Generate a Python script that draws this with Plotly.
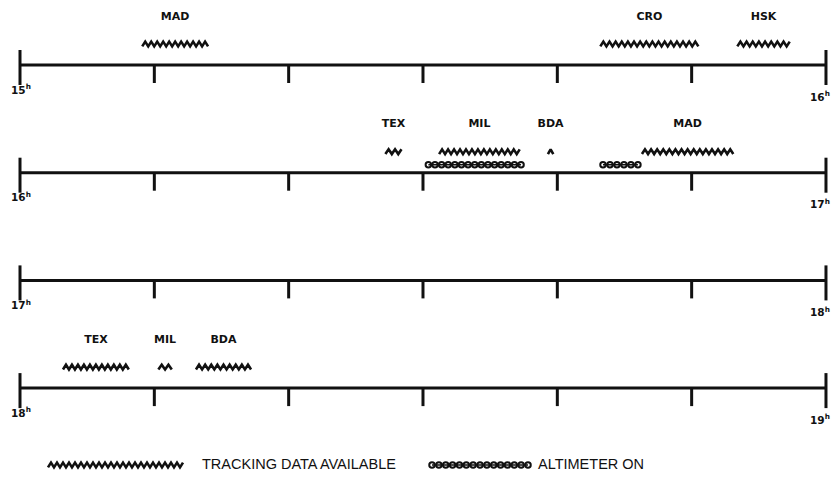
import plotly.graph_objects as go

# ---------------- data ----------------
hour_labels = ["15", "16", "17", "18", "19"]
tick_minutes = [0, 10, 20, 30, 40, 50, 60]

# tracking data available: station, row (starting hour index), start/end minute
track_station = ["MAD", "CRO", "HSK", "TEX", "MIL", "BDA", "MAD", "TEX", "MIL", "BDA"]
track_row = [0, 0, 0, 1, 1, 1, 1, 3, 3, 3]
track_start = [9.1, 43.2, 53.4, 27.2, 31.2, 39.3, 46.3, 3.2, 10.3, 13.1]
track_end = [14.0, 50.5, 57.3, 28.4, 37.2, 39.7, 53.1, 8.1, 11.3, 17.2]

# altimeter on
alt_row = [1, 1]
alt_start = [30.4, 43.4]
alt_end = [37.3, 46.0]

legend_labels = ["TRACKING DATA AVAILABLE", "ALTIMETER ON"]

# ---------------- layout constants ----------------
W, H = 833, 479
PX_PER_MIN = 13.433
X0_PX = 20
ROW_PX = 107.7
ROW0_PX = 65
INK = "#111111"
FONT = "DejaVu Sans"
LFONT = "Liberation Sans"


def px_to_min(px):
    return (px - X0_PX) / PX_PER_MIN


def px_to_row(py):
    return (py - ROW0_PX) / ROW_PX


WAVE_OFF = -21 / ROW_PX
ALT_OFF = -8 / ROW_PX
LABEL_OFF = -48 / ROW_PX


def zigzag(x0, x1, yc, period=0.45, amp=0.022):
    n = max(2, int(round((x1 - x0) / (period / 2))))
    xs = [x0 + (x1 - x0) * i / n for i in range(n + 1)]
    ys = [yc + (-amp if i % 2 else amp) for i in range(n + 1)]
    return xs, ys


def chain(x0, x1, yc, step=0.5):
    n = max(1, int(round((x1 - x0) / step)))
    xs = [x0 + (x1 - x0) * i / n for i in range(n + 1)]
    return xs, [yc] * len(xs)


fig = go.Figure()

# timeline base lines
n_rows = len(hour_labels) - 1
bx, by = [], []
for r in range(n_rows):
    bx += [tick_minutes[0], tick_minutes[-1], None]
    by += [r, r, None]
fig.add_trace(go.Scatter(x=bx, y=by, mode="lines",
                         line=dict(color=INK, width=3), hoverinfo="skip"))

# ticks
tx, ty = [], []
for r in range(n_rows):
    for m in tick_minutes:
        tx += [m, m, None]
        if m in (tick_minutes[0], tick_minutes[-1]):
            ty += [r - 15 / ROW_PX, r + 20 / ROW_PX, None]
        else:
            ty += [r, r + 18 / ROW_PX, None]
fig.add_trace(go.Scatter(x=tx, y=ty, mode="lines",
                         line=dict(color=INK, width=3), hoverinfo="skip"))

# hour labels
lx, ly, lt = [], [], []
for r in range(n_rows):
    lx += [px_to_min(21), px_to_min(820)]
    ly += [r + 26 / ROW_PX, r + 33 / ROW_PX]
    lt += [f"<b>{hour_labels[r]}<sup>h</sup></b>",
           f"<b>{hour_labels[r + 1]}<sup>h</sup></b>"]
fig.add_trace(go.Scatter(x=lx, y=ly, mode="text", text=lt,
                         textfont=dict(family=FONT, size=10.5, color=INK),
                         hoverinfo="skip"))

# tracking wavy segments
wx, wy = [], []
for s, e, r in zip(track_start, track_end, track_row):
    xs, ys = zigzag(s, e, r + WAVE_OFF)
    wx += xs + [None]
    wy += ys + [None]
fig.add_trace(go.Scatter(x=wx, y=wy, mode="lines",
                         line=dict(color=INK, width=2.6), hoverinfo="skip"))

# station labels
sx = [(s + e) / 2 for s, e in zip(track_start, track_end)]
sy = [r + LABEL_OFF for r in track_row]
fig.add_trace(go.Scatter(x=sx, y=sy, mode="text",
                         text=[f"<b>{t}</b>" for t in track_station],
                         textfont=dict(family=FONT, size=11, color=INK),
                         hoverinfo="skip"))

# altimeter segments
ax_, ay_ = [], []
for s, e, r in zip(alt_start, alt_end, alt_row):
    xs, ys = chain(s, e, r + ALT_OFF)
    ax_ += xs + [None]
    ay_ += ys + [None]
alt_marker = dict(symbol="circle-open", size=5.5, color=INK,
                  line=dict(width=2, color=INK))
fig.add_trace(go.Scatter(x=ax_, y=ay_, mode="lines+markers",
                         line=dict(color=INK, width=1.5),
                         marker=alt_marker, hoverinfo="skip"))

# legend
leg_y = px_to_row(465)
xs, ys = zigzag(px_to_min(48), px_to_min(183), leg_y)
fig.add_trace(go.Scatter(x=xs, y=ys, mode="lines",
                         line=dict(color=INK, width=2.6), hoverinfo="skip"))
xs, ys = chain(px_to_min(432), px_to_min(528), leg_y)
fig.add_trace(go.Scatter(x=xs, y=ys, mode="lines+markers",
                         line=dict(color=INK, width=1.5),
                         marker=alt_marker, hoverinfo="skip"))
fig.add_trace(go.Scatter(x=[px_to_min(202), px_to_min(538)], y=[leg_y, leg_y],
                         mode="text", text=legend_labels,
                         textposition="middle right",
                         textfont=dict(family=LFONT, size=14.5, color=INK),
                         hoverinfo="skip"))

fig.update_layout(
    width=W, height=H,
    margin=dict(l=0, r=0, t=0, b=0),
    paper_bgcolor="white", plot_bgcolor="white",
    showlegend=False,
    xaxis=dict(range=[px_to_min(0), px_to_min(W)], visible=False, fixedrange=True),
    yaxis=dict(range=[px_to_row(H), px_to_row(0)], visible=False, fixedrange=True),
)

fig.write_html("out.html",
               config={"displayModeBar": False},
               post_script="document.body.style.margin='0';document.body.style.padding='0';")
